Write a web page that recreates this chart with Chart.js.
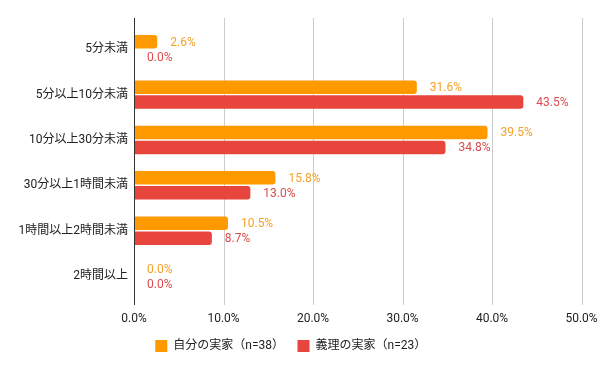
<!DOCTYPE html>
<html lang="ja">
<head>
    <meta charset="UTF-8">
    <title>実家までの所要時間</title>
    <script src="https://cdn.jsdelivr.net/npm/chart.js"></script>
    <style>
        body { margin: 0; background: #fff; }
    </style>
</head>
<body>
    <canvas id="chart" width="600" height="371"></canvas>

    <script>
        // data
        const categories = ['5分未満', '5分以上10分未満', '10分以上30分未満', '30分以上1時間未満', '1時間以上2時間未満', '2時間以上'];
        const ownHome = [2.6, 31.6, 39.5, 15.8, 10.5, 0.0];
        const inLawHome = [0.0, 43.5, 34.8, 13.0, 8.7, 0.0];
        const seriesNames = ['自分の実家（n=38）', '義理の実家（n=23）'];
        const xMin = 0, xMax = 50, xStep = 10;

        const FONT = "Roboto, 'Noto Sans CJK JP', sans-serif";

        // gridlines a bit longer than the category band, plus the dark axis line
        const gridPlugin = {
            id: 'grid',
            beforeDatasetsDraw(chart) {
                const { ctx, chartArea, scales } = chart;
                const top = chartArea.top - 8.6, bottom = chartArea.bottom + 6.3;
                ctx.save();
                ctx.strokeStyle = '#cccccc';
                ctx.lineWidth = 1;
                scales.x.ticks.forEach(t => {
                    if (t.value === xMin) return;
                    const x = Math.round(scales.x.getPixelForValue(t.value)) + 0.5;
                    ctx.beginPath();
                    ctx.moveTo(x, top);
                    ctx.lineTo(x, bottom);
                    ctx.stroke();
                });
                ctx.restore();
            },
            afterDatasetsDraw(chart) {
                const { ctx, chartArea, scales } = chart;
                const x = Math.round(scales.x.getPixelForValue(xMin)) + 0.5;
                ctx.save();
                ctx.strokeStyle = '#333333';
                ctx.beginPath();
                ctx.moveTo(x, chartArea.top - 8.6);
                ctx.lineTo(x, chartArea.bottom + 6.3);
                ctx.stroke();
                ctx.restore();
            }
        };

        // value labels next to each bar
        const labelPlugin = {
            id: 'valueLabels',
            afterDatasetsDraw(chart) {
                const ctx = chart.ctx;
                ctx.save();
                ctx.font = '12px ' + FONT;
                ctx.textAlign = 'left';
                ctx.textBaseline = 'middle';
                chart.data.datasets.forEach((ds, i) => {
                    ctx.fillStyle = ds.labelColor;
                    chart.getDatasetMeta(i).data.forEach((bar, j) => {
                        ctx.fillText(ds.data[j].toFixed(1) + '%', bar.x + 13, bar.y + 1);
                    });
                });
                ctx.restore();
            }
        };

        new Chart(document.getElementById('chart'), {
            type: 'bar',
            data: {
                labels: categories,
                datasets: [{
                    label: seriesNames[0],
                    data: ownHome,
                    backgroundColor: '#ff9900',
                    labelColor: '#f5a128',
                    borderRadius: 3,
                    categoryPercentage: 0.66,
                    barPercentage: 0.9
                }, {
                    label: seriesNames[1],
                    data: inLawHome,
                    backgroundColor: '#e8453c',
                    labelColor: '#dc4b4b',
                    borderRadius: 3,
                    categoryPercentage: 0.66,
                    barPercentage: 0.9
                }]
            },
            options: {
                indexAxis: 'y',
                responsive: false,
                animation: false,
                layout: { padding: { top: 26.6, right: 18.5, left: 0, bottom: 9 } },
                scales: {
                    x: {
                        min: xMin,
                        max: xMax,
                        grid: { display: false, drawTicks: false },
                        border: { display: false },
                        ticks: {
                            stepSize: xStep,
                            padding: 13.4,
                            color: '#222',
                            font: { family: FONT, size: 12 },
                            callback: v => v.toFixed(1) + '%'
                        },
                        afterFit(scale) {
                            scale.height = 27.8;
                            scale.paddingLeft = 0;
                            scale.paddingRight = 0;
                        }
                    },
                    y: {
                        grid: { display: false, drawTicks: false },
                        border: { display: false },
                        ticks: {
                            padding: 6,
                            color: '#222',
                            font: { family: FONT, size: 12 }
                        },
                        afterFit(scale) { scale.width = 134; }
                    }
                },
                plugins: {
                    legend: {
                        position: 'bottom',
                        labels: {
                            boxWidth: 12,
                            boxHeight: 12,
                            padding: 13.5,
                            color: '#222',
                            font: { family: FONT, size: 12 }
                        }
                    },
                    tooltip: { enabled: false }
                }
            },
            plugins: [gridPlugin, labelPlugin]
        });
    </script>
</body>
</html>
